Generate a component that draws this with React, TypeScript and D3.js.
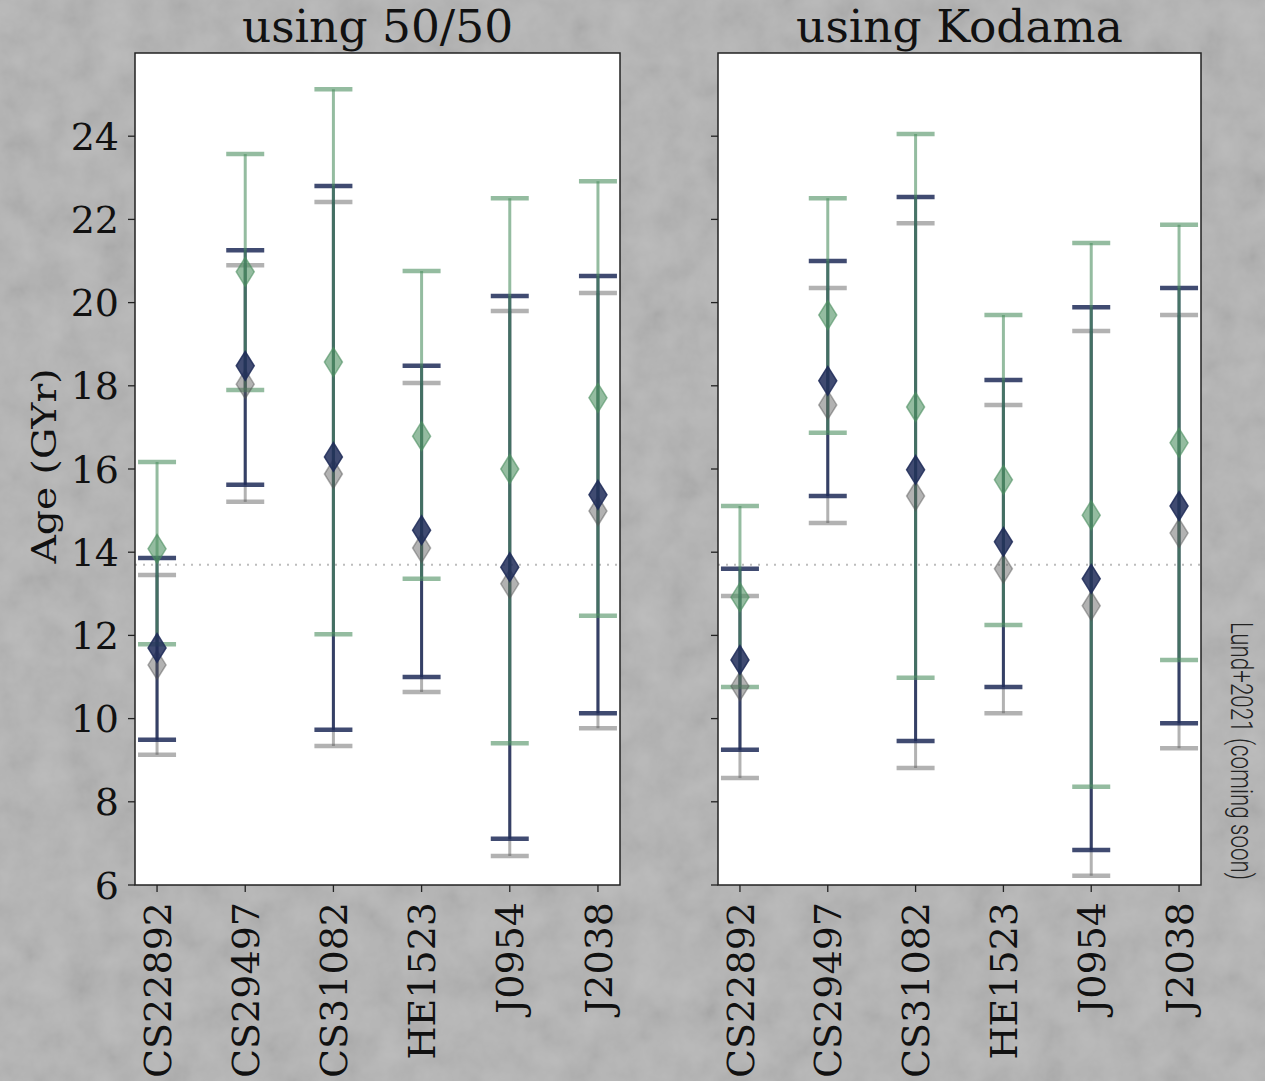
import React from "react";
import * as d3 from "d3";

const categories = ["CS22892", "CS29497", "CS31082", "HE1523", "J0954", "J2038"];
const yTicks = [6, 8, 10, 12, 14, 16, 18, 20, 22, 24];
const universeAge = 13.7;
const panelTitles = ["using 50/50", "using Kodama"];

// Left panel (50/50)
const l5050GreyMid = [11.29, 18.04, 15.88, 14.1, 13.24, 14.99];
const l5050GreyLo = [9.13, 15.21, 9.34, 10.64, 6.7, 9.77];
const l5050GreyHi = [13.45, 20.9, 22.42, 18.07, 19.8, 20.23];
const l5050NavyMid = [11.7, 18.48, 16.29, 14.53, 13.64, 15.38];
const l5050NavyLo = [9.49, 15.62, 9.73, 11.0, 7.11, 10.13];
const l5050NavyHi = [13.86, 21.26, 22.8, 18.48, 20.16, 20.64];
const l5050GreenMid = [14.08, 20.74, 18.57, 16.79, 16.0, 17.71];
const l5050GreenLo = [11.79, 17.9, 12.03, 13.36, 9.41, 12.47];
const l5050GreenHi = [16.17, 23.57, 25.13, 20.76, 22.51, 22.92];

// Right panel (Kodama)
const kodGreyMid = [10.78, 17.54, 15.35, 13.6, 12.71, 14.46];
const kodGreyLo = [8.57, 14.7, 8.81, 10.13, 6.22, 9.29];
const kodGreyHi = [12.95, 20.35, 21.91, 17.54, 19.32, 19.7];
const kodNavyMid = [11.41, 18.12, 15.98, 14.25, 13.36, 15.11];
const kodNavyLo = [9.25, 15.35, 9.46, 10.76, 6.84, 9.89];
const kodNavyHi = [13.6, 21.0, 22.54, 18.14, 19.89, 20.35];
const kodGreenMid = [12.92, 19.7, 17.49, 15.74, 14.89, 16.63];
const kodGreenLo = [10.76, 16.87, 10.98, 12.25, 8.36, 11.41];
const kodGreenHi = [15.11, 22.51, 24.05, 19.7, 21.43, 21.87];

type Series = { mid: number[]; lo: number[]; hi: number[]; color: string; alpha: number };

const GREY = "#555555";
const NAVY = "#1f2c58";
const GREEN = "#4c8f60";

const panels: { title: string; x0: number; x1: number; series: Series[] }[] = [
  {
    title: panelTitles[0], x0: 135, x1: 620,
    series: [
      { mid: l5050GreyMid, lo: l5050GreyLo, hi: l5050GreyHi, color: GREY, alpha: 0.45 },
      { mid: l5050NavyMid, lo: l5050NavyLo, hi: l5050NavyHi, color: NAVY, alpha: 0.85 },
      { mid: l5050GreenMid, lo: l5050GreenLo, hi: l5050GreenHi, color: GREEN, alpha: 0.6 },
    ],
  },
  {
    title: panelTitles[1], x0: 718, x1: 1201,
    series: [
      { mid: kodGreyMid, lo: kodGreyLo, hi: kodGreyHi, color: GREY, alpha: 0.45 },
      { mid: kodNavyMid, lo: kodNavyLo, hi: kodNavyHi, color: NAVY, alpha: 0.85 },
      { mid: kodGreenMid, lo: kodGreenLo, hi: kodGreenHi, color: GREEN, alpha: 0.6 },
    ],
  },
];

const TOP = 53;
const BOTTOM = 885;
const serif = "'DejaVu Serif', serif";

export default function App() {
  const y = d3.scaleLinear().domain([6, 26]).range([BOTTOM, TOP]);
  const capHW = 19;
  const mW = 9;
  const mH = 14.5;
  const diamond = (cx: number, cy: number) =>
    `M${cx},${cy - mH}L${cx + mW},${cy}L${cx},${cy + mH}L${cx - mW},${cy}Z`;

  return (
    <svg width={1265} height={1081} style={{ position: "absolute", left: 0, top: 0, display: "block" }}>
      <defs>
        <filter id="noise" x="0" y="0" width="100%" height="100%">
          <feTurbulence type="fractalNoise" baseFrequency="0.03" numOctaves={4} seed={4} />
          <feColorMatrix type="matrix" values="1 0 0 0 0  1 0 0 0 0  1 0 0 0 0  0 0 0 0 1" />
        </filter>
        {panels.map((p, i) => (
          <clipPath id={`clip${i}`} key={i}>
            <rect x={p.x0} y={TOP} width={p.x1 - p.x0} height={BOTTOM - TOP} />
          </clipPath>
        ))}
      </defs>
      <rect x={0} y={0} width={1265} height={1081} fill="#b4b4b4" />
      <rect x={0} y={0} width={1265} height={1081} filter="url(#noise)" opacity={0.12} />

      {panels.map((p, pi) => {
        const x = d3.scaleLinear().domain([-0.25, 5.25]).range([p.x0, p.x1]);
        return (
          <g key={pi}>
            <rect x={p.x0} y={TOP} width={p.x1 - p.x0} height={BOTTOM - TOP} fill="#ffffff" />
            <g clipPath={`url(#clip${pi})`}>
              <line x1={p.x0} x2={p.x1} y1={y(universeAge)} y2={y(universeAge)}
                stroke="#bdbdbd" strokeWidth={2} strokeDasharray="2,6" />
              {p.series.map((s, si) => (
                <g key={si} stroke={s.color} strokeOpacity={s.alpha}>
                  {categories.map((c, ci) => (
                    <g key={ci}>
                      <line x1={x(ci)} x2={x(ci)} y1={y(s.lo[ci])} y2={y(s.hi[ci])} strokeWidth={3} />
                      <line x1={x(ci) - capHW} x2={x(ci) + capHW} y1={y(s.lo[ci])} y2={y(s.lo[ci])} strokeWidth={4.5} />
                      <line x1={x(ci) - capHW} x2={x(ci) + capHW} y1={y(s.hi[ci])} y2={y(s.hi[ci])} strokeWidth={4.5} />
                    </g>
                  ))}
                </g>
              ))}
              {p.series.map((s, si) => (
                <g key={si}>
                  {categories.map((c, ci) => (
                    <path key={ci} d={diamond(x(ci), y(s.mid[ci]))} fill={s.color} fillOpacity={s.alpha}
                      stroke={s.color} strokeOpacity={s.alpha} strokeWidth={1.5} />
                  ))}
                </g>
              ))}
            </g>
            <rect x={p.x0} y={TOP} width={p.x1 - p.x0} height={BOTTOM - TOP} fill="none" stroke="#222" strokeWidth={1.5} />
            {yTicks.map((t) => (
              <g key={t}>
                <line x1={p.x0 - 7} x2={p.x0} y1={y(t)} y2={y(t)} stroke="#222" strokeWidth={1.3} />
                {pi === 0 && (
                  <text x={p.x0 - 16} y={y(t)} dy="0.36em" textAnchor="end" fontFamily={serif} fontSize={38} fill="#111">
                    {t}
                  </text>
                )}
              </g>
            ))}
            {categories.map((c, ci) => (
              <g key={c}>
                <line x1={x(ci)} x2={x(ci)} y1={BOTTOM} y2={BOTTOM + 7} stroke="#222" strokeWidth={1.3} />
                <text transform={`translate(${x(ci)},${BOTTOM + 17}) rotate(-90)`} dy="0.36em" textAnchor="end"
                  fontFamily={serif} fontSize={38} fill="#111">
                  {c}
                </text>
              </g>
            ))}
            <text x={(p.x0 + p.x1) / 2} y={42} textAnchor="middle" fontFamily={serif} fontSize={45.5} fill="#111">
              {p.title}
            </text>
          </g>
        );
      })}
      <text transform="translate(56,466) rotate(-90)" textAnchor="middle" fontFamily={serif} fontSize={33}
        textLength={195} lengthAdjust="spacingAndGlyphs" fill="#111">
        Age (GYr)
      </text>
      <text transform="translate(1231,622) rotate(90)" textAnchor="start"
        fontFamily="'Liberation Sans Narrow', 'Roboto', sans-serif" fontSize={31} fontWeight={300}
        textLength={258} lengthAdjust="spacingAndGlyphs" fill="#222">
        Lund+2021 (coming soon)
      </text>
    </svg>
  );
}
